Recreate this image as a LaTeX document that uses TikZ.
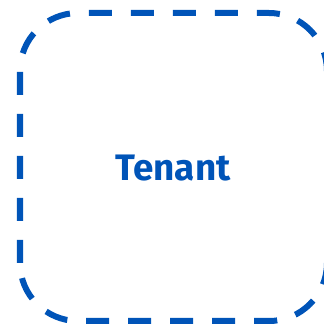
\documentclass[tikz,border=0pt]{standalone}
\usepackage{fontspec}
\setmainfont{Fira Sans}
\definecolor{tblue}{RGB}{0,84,184}
\begin{document}
\begin{tikzpicture}[x=1bp,y=1bp,
  tenantbox/.style={draw=tblue,line width=6bp,dash pattern=on 23bp off 19bp,rounded corners=58bp},
  tenantlabel/.style={text=tblue,font=\fontsize{37}{44}\selectfont\bfseries}]
\useasboundingbox (0,0) rectangle (324,324);
\begin{scope}
\clip (0,0) rectangle (324,324);
\draw[tenantbox] (20,3) rectangle (327,311);
\end{scope}
\node[tenantlabel] (t) at (173,156) {Tenant};
\end{tikzpicture}
\end{document}
